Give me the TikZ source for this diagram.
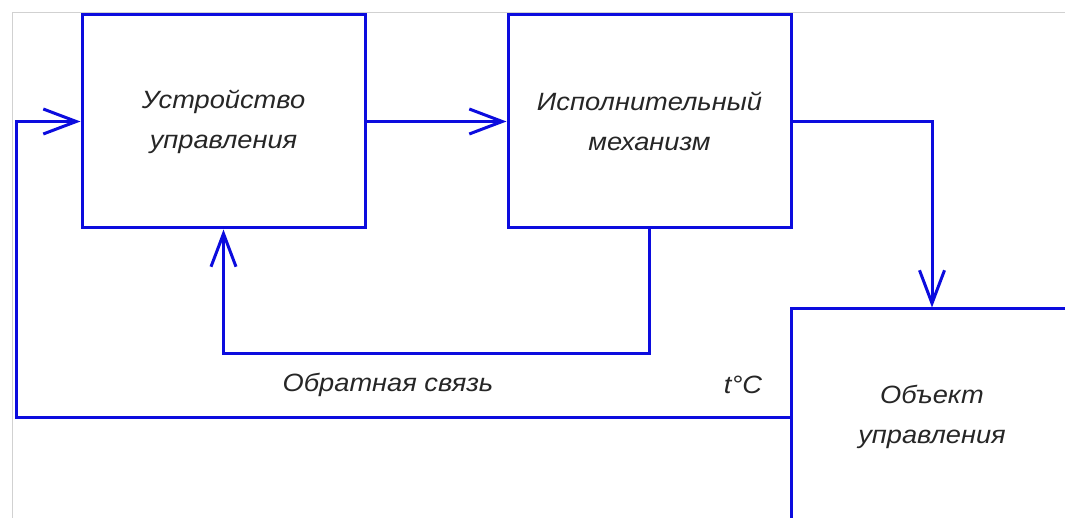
\documentclass[tikz,border=0pt]{standalone}
\usepackage{fontspec}
\setmainfont[FakeStretch=1.09]{Liberation Sans}
\usepackage{tikz}
\usetikzlibrary{positioning}
\usetikzlibrary{arrows.meta}
\definecolor{linie}{RGB}{12,12,222}
\definecolor{rahmen}{gray}{.82}
\definecolor{schrift}{gray}{.15}

\begin{document}
\begin{tikzpicture}[
x=1pt, y=-1pt,
block/.style={draw=linie, line width=3pt, minimum width=283pt, minimum height=213pt,
  inner sep=0pt, align=center, text=schrift, font=\fontsize{25}{40}\selectfont\itshape},
lbl/.style={text=schrift, font=\fontsize{25}{30}\selectfont\itshape},
arr/.style={draw=linie, line width=3pt, -{Straight Barb[length=33pt, width=25pt, line width=3pt]}},
>=Straight Barb   %Pfeilspitzen offen
]
% Bildgrenzen
\useasboundingbox (0,0) rectangle (1065,518);
\clip (0,0) rectangle (1065,518);

% feiner Rahmen
\draw[rahmen, thin] (12,518) -- (12,12) -- (1065,12);

% Bloecke
\node[block] (ustr) at (223.5,121.5) {Устройство\\управления};
\node[block] (isp) at (649.5,121.5) {Исполнительный\\механизм};
\node[block, minimum width=282pt, minimum height=216pt] (obj) at (932,417) {Объект\\управления};

% Verbindungen
\draw[arr] (ustr.east) -- (isp.west);
\draw[arr] (isp.east) -| (obj.north);

% innere Rueckfuehrung
\draw[arr] (isp.south) -- ++(0,124) -| (ustr.south);

% aeussere Rueckfuehrung
\coordinate (links) at (16,415);
\draw[arr] (obj.west) -- (obj.west -| links) |- (ustr.west);

% Beschriftung
\node[lbl] (rueck) at (388,385) {Обратная связь};
\node[lbl] (temp) at (743,385) {t°C};
\end{tikzpicture}
\end{document}
